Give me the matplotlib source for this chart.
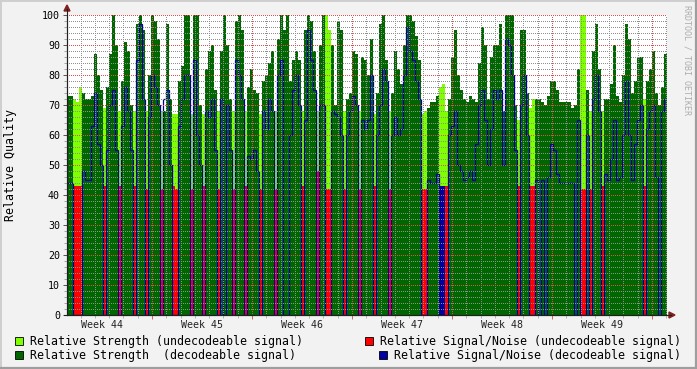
import numpy as np
import matplotlib
matplotlib.use("Agg")
import matplotlib.pyplot as plt
import matplotlib.transforms as mtransforms
from matplotlib.patches import Rectangle, Polygon
from matplotlib.ticker import MultipleLocator, NullFormatter

plt.rcParams['font.family'] = 'DejaVu Sans Mono'
plt.rcParams['lines.scale_dashes'] = False

# time axis: days since monday of week 44, one sample every 0.21 day
t_start = 1.05
t_step = 0.21

# D = decodeable, U = undecodeable, M = undecodeable strength with decodeable s/n
state = ("DDUUUDDDDD" "DDUDDDDUDD" "DDUDDDUDDD" "DUDDDUUDDD" "DUDDDUDDDD"
         "UDDDDUDDDU" "DDDDUDDDDU" "DDDDDDDDUD" "DDDUDDUUDD" "DDUDDDDUDD"
         "DDUDDDDUDD" "DDDDDDDDUU" "DDDDMMUDDD" "DDDDDDDDDD" "DDDDDDDDDD"
         "UDDDUUDDDD" "DDDDDDDDDD" "DUUDUDDDUD" "DDDDDDDDDD" "DDUDDDDDDD")

strength = [73, 73, 72, 71, 76, 74, 72, 72, 73, 87,
            80, 75, 69, 76, 87, 100, 90, 68, 78, 91,
            88, 70, 68, 97, 100, 95, 68, 80, 100, 98,
            92, 68, 68, 97, 72, 67, 67, 78, 83, 100,
            100, 67, 100, 100, 70, 67, 82, 88, 90, 75,
            68, 88, 100, 90, 72, 68, 98, 100, 95, 68,
            76, 82, 75, 74, 67, 78, 80, 84, 88, 68,
            92, 100, 95, 100, 78, 85, 88, 85, 68, 95,
            100, 98, 88, 68, 90, 100, 100, 95, 90, 70,
            98, 95, 68, 72, 74, 88, 87, 68, 86, 85,
            80, 92, 67, 74, 97, 100, 85, 68, 74, 88,
            82, 77, 90, 100, 100, 98, 93, 85, 67, 68,
            69, 71, 71, 73, 76, 77, 68, 72, 86, 95,
            80, 75, 72, 71, 73, 72, 71, 84, 96, 90,
            72, 86, 90, 90, 97, 68, 100, 100, 100, 70,
            65, 95, 95, 74, 69, 72, 72, 72, 71, 70,
            73, 78, 78, 75, 71, 71, 71, 71, 69, 70,
            82, 100, 100, 75, 68, 88, 97, 82, 68, 72,
            72, 77, 90, 73, 71, 80, 97, 92, 74, 78,
            86, 86, 72, 78, 82, 88, 74, 70, 76, 87]

snr = [44, 44, 43, 43, 43, 48, 45, 45, 63, 74,
       57, 50, 43, 55, 70, 75, 55, 43, 63, 76,
       68, 55, 43, 85, 97, 72, 42, 66, 80, 76,
       70, 42, 72, 75, 50, 43, 42, 63, 72, 80,
       80, 42, 85, 60, 50, 43, 68, 66, 72, 55,
       42, 72, 0, 70, 55, 42, 85, 80, 72, 43,
       53, 52, 55, 48, 42, 68, 62, 72, 68, 42,
       80, 85, 0, 0, 60, 75, 80, 70, 43, 65,
       95, 85, 75, 48, 70, 70, 42, 42, 68, 67,
       66, 60, 42, 60, 68, 73, 70, 42, 65, 62,
       65, 80, 43, 60, 70, 82, 78, 42, 60, 66,
       60, 62, 80, 96, 88, 85, 78, 72, 42, 42,
       45, 44, 44, 47, 43, 43, 43, 60, 63, 68,
       50, 48, 45, 46, 48, 45, 57, 70, 75, 65,
       50, 62, 75, 72, 75, 50, 92, 90, 80, 55,
       43, 70, 80, 60, 43, 43, 45, 0, 45, 0,
       46, 57, 55, 47, 44, 44, 44, 44, 44, 0,
       65, 42, 42, 60, 42, 72, 80, 68, 43, 47,
       45, 52, 65, 45, 46, 60, 78, 60, 45, 57,
       65, 70, 43, 62, 68, 70, 46, 0, 68, 72]

weeks = ["Week 44", "Week 45", "Week 46", "Week 47", "Week 48", "Week 49"]
legend_left = ["Relative Strength (undecodeable signal)",
               "Relative Strength  (decodeable signal)"]
legend_right = ["Relative Signal/Noise (undecodeable signal)",
                "Relative Signal/Noise (decodeable signal)"]

LIGHT = '#80FF00'
DARK = '#006600'
RED = '#FF0000'
BLUE = '#0000A0'
BACK = '#F2F2F2'
ARROW = (0.5, 0.12, 0.12)

W, H = 697, 369
fig = plt.figure(figsize=(W / 100, H / 100), dpi=100, facecolor=BACK)
ax = fig.add_axes([67 / W, 54 / H, 600 / W, 300 / H])
ax.set_facecolor('white')

n = len(strength)
edges = t_start + t_step * np.arange(n + 1)
st = np.array(list(state))
s = np.array(strength, float)
q = np.array(snr, float)
undec = st == 'U'
dec = st == 'D'
mixed = st == 'M'

ax.stairs(np.where(undec | mixed, s, 0), edges, fill=True, color=LIGHT, lw=0, baseline=0)
ax.stairs(np.where(dec, s, 0), edges, fill=True, color=DARK, lw=0, baseline=0)
ax.stairs(np.where(undec, q, 0), edges, fill=True, color=RED, lw=0, baseline=0)
ax.stairs(np.where(mixed, q, 0), edges, fill=True, color=BLUE, lw=0, baseline=0)
ax.stairs(np.where(dec, q, 0), edges, color=BLUE, lw=0.9, baseline=None)

ax.set_xlim(edges[0], edges[0] + 42.0)
ax.set_ylim(0, 100)

ax.xaxis.set_major_locator(MultipleLocator(7))
ax.xaxis.set_minor_locator(MultipleLocator(1))
ax.xaxis.set_major_formatter(NullFormatter())
ax.yaxis.set_major_locator(MultipleLocator(10))
ax.yaxis.set_minor_locator(MultipleLocator(2))

ax.set_axisbelow(False)
ax.grid(which='minor', color=(0.56, 0.56, 0.56, 0.4), lw=0.72, ls=(0, (0.72, 1.44)),
        antialiased=False)
ax.grid(which='major', color=(0.87, 0.31, 0.31, 0.55), lw=0.72, ls=(0, (0.72, 1.44)),
        antialiased=False)

for sp in ['top', 'right']:
    ax.spines[sp].set_visible(False)
for sp in ['left', 'bottom']:
    ax.spines[sp].set_color('#1F1F1F')
    ax.spines[sp].set_linewidth(0.8)

ax.tick_params(axis='y', which='major', length=3, width=0.7, color='#555555',
               labelsize=7.2, pad=2)
ax.tick_params(axis='y', which='minor', length=2, width=0.6, color='#999999')
ax.tick_params(axis='x', which='major', length=3, width=0.7, color='#D06060')
ax.tick_params(axis='x', which='minor', length=2, width=0.6, color='#AAAAAA')

trans = mtransforms.blended_transform_factory(ax.transData, ax.transAxes)
for i, w in enumerate(weeks):
    ax.text(3.5 + 7 * i, -0.032, w, transform=trans, ha='center', va='center',
            fontsize=7.2, color='#222222')

# overlay in pixel coordinates for frame, arrows, legend, titles
ov = fig.add_axes([0, 0, 1, 1], zorder=5)
ov.set_xlim(0, W)
ov.set_ylim(H, 0)
ov.axis('off')
ov.patch.set_alpha(0)

ov.plot([67, 67], [315, 9], color='#1F1F1F', lw=0.8)
ov.plot([64, 671], [315, 315], color='#1F1F1F', lw=0.8)
ov.add_patch(Polygon([[64, 11], [70, 11], [67, 5]], closed=True, color=ARROW))
ov.add_patch(Polygon([[669, 312], [669, 318], [675, 315]], closed=True, color=ARROW))

ov.plot([0, W], [0.5, 0.5], color='#CFCFCF', lw=1.4)
ov.plot([0.5, 0.5], [0, H], color='#CFCFCF', lw=1.4)
ov.plot([0, W], [368, 368], color='#9E9E9E', lw=1.6)
ov.plot([696, 696], [0, H], color='#9E9E9E', lw=1.6)

ov.text(11, 165, "Relative Quality", rotation=90, ha='center', va='center',
        fontsize=8.4, color='#000000')
ov.text(687, 60, "RRDTOOL / TOBI OETIKER", rotation=270, ha='center', va='center',
        fontsize=6, color='#ADADAD')

leg = [(15, 341, LIGHT, legend_left[0]), (15, 355, DARK, legend_left[1]),
       (365, 341, RED, legend_right[0]), (379, 355, BLUE, legend_right[1])]
for x, y, c, label in leg:
    ov.add_patch(Rectangle((x, y - 4), 8, 8, facecolor=c, edgecolor='black', lw=0.6))
    ov.text(x + 15, y, label, ha='left', va='center', fontsize=8.35, color='#000000')

fig.savefig("out.png", dpi=100, facecolor=BACK)
